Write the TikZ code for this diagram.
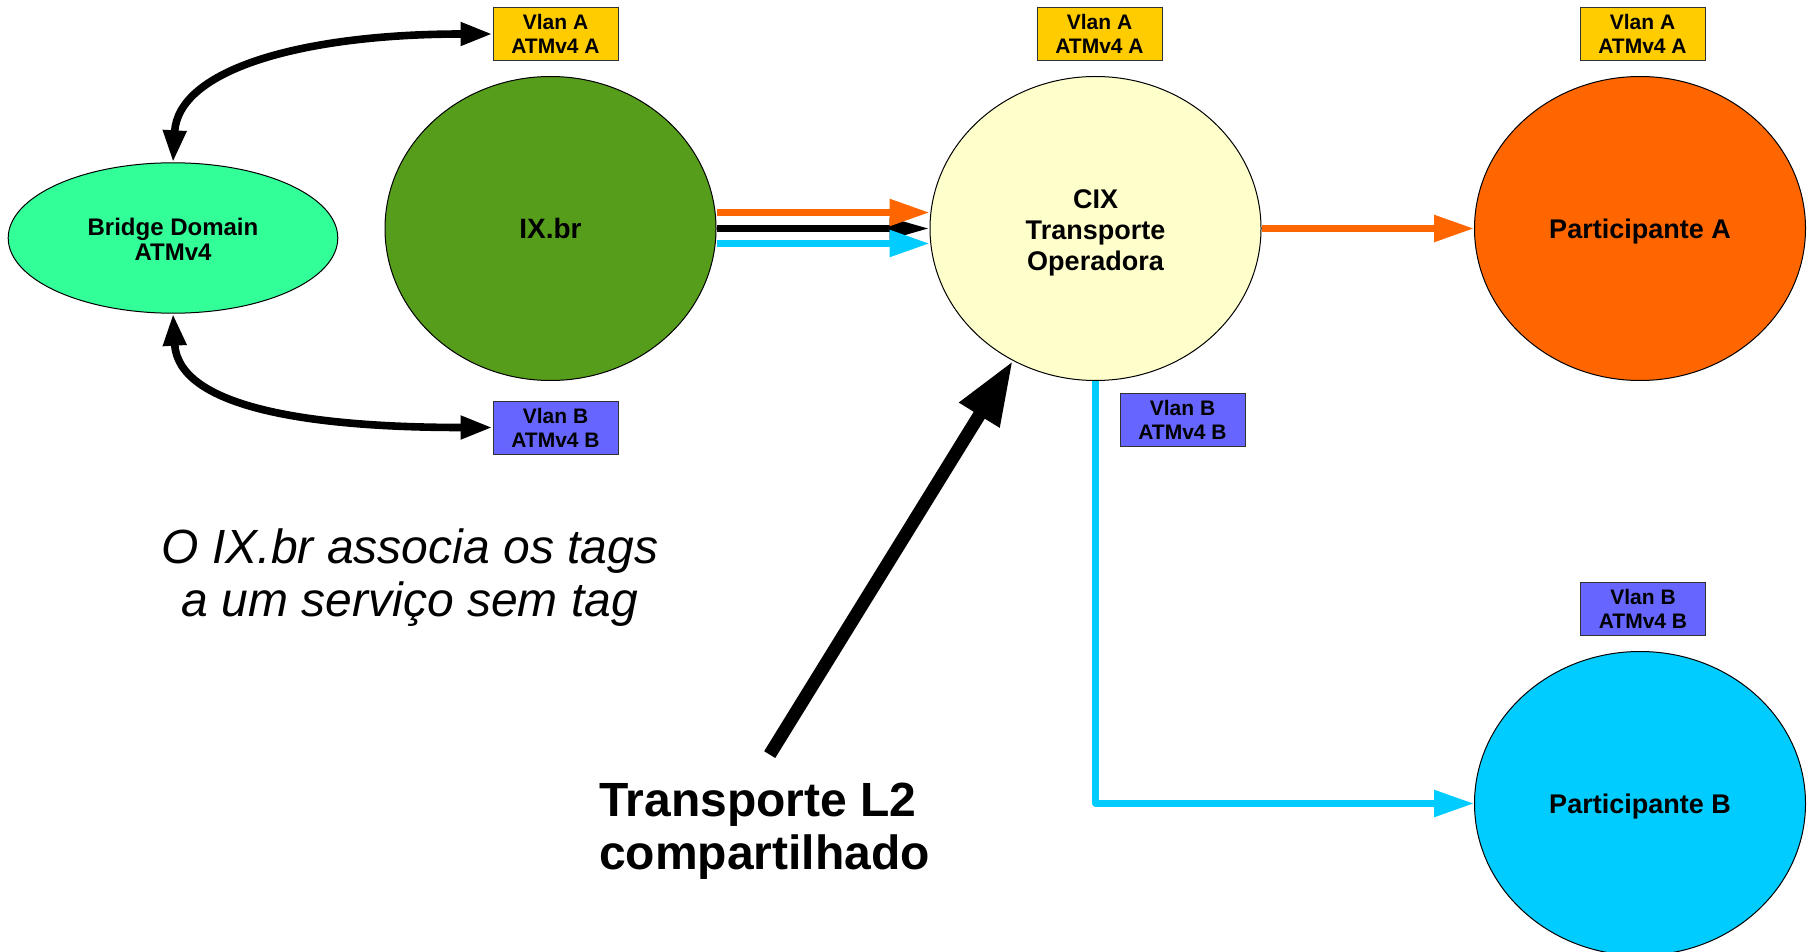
\documentclass[tikz,border=0pt]{standalone}
\usepackage{fontspec}
\setmainfont{Liberation Sans}
\usetikzlibrary{arrows.meta,shapes.geometric}
\definecolor{bdgreen}{HTML}{33FF99}
\definecolor{ixgreen}{HTML}{579D1C}
\definecolor{cixyellow}{HTML}{FFFFCC}
\definecolor{orangeA}{HTML}{FF6600}
\definecolor{cyanB}{HTML}{00CCFF}
\definecolor{vlanA}{HTML}{FFCC00}
\definecolor{vlanB}{HTML}{6666FF}
\begin{document}
\begin{tikzpicture}[x=0.5pt,y=-0.5pt,
  oval/.style={ellipse, draw=black, line width=0.5pt, inner sep=0pt,
    minimum width=165.5pt, minimum height=152pt,
    font=\fontsize{13.5}{15.5}\selectfont\bfseries, align=center},
  tagbox/.style={rectangle, draw=black!80, line width=0.5pt, inner sep=0pt,
    minimum width=62.5pt, minimum height=26.5pt,
    font=\fontsize{10.5}{12}\selectfont\bfseries, align=center},
  flow/.style={line width=3.4pt, -{Triangle[length=20pt,width=12.8pt]}},
  blackflow/.style={line width=3.2pt, -{Triangle[length=20pt,width=10pt]}},
  curvearrow/.style={line width=3.8pt,
    {Triangle[length=16pt,width=11pt]}-{Triangle[length=16pt,width=11pt]}},
  bigarrow/.style={line width=6.5pt, -{Triangle[length=32pt,width=22pt]}},
]
\useasboundingbox (0,0) rectangle (1814,952);

% ellipses
\node[oval, fill=bdgreen, minimum width=164.8pt, minimum height=75.2pt,
  font=\fontsize{12}{12.7}\selectfont\bfseries] (bd) at (173,238)
  {\raisebox{-2.5pt}[\height][\depth]{\begin{tabular}{@{}c@{}}Bridge Domain\\ATMv4\end{tabular}}};
\node[oval, fill=ixgreen, font=\fontsize{14}{16}\selectfont\bfseries] (ix) at (550.5,228.5) {IX.br};
\node[oval, fill=cixyellow] (cix) at (1095.5,228.5)
  {\raisebox{-2.3pt}[\height][\depth]{\begin{tabular}{@{}c@{}}CIX\\Transporte\\Operadora\end{tabular}}};
\node[oval, fill=orangeA] (pa) at (1640,228.5) {\raisebox{-1.5pt}[\height][\depth]{Participante A}};
\node[oval, fill=cyanB] (pb) at (1640,803.5) {\raisebox{-1.5pt}[\height][\depth]{Participante B}};

% tag boxes
\node[tagbox, fill=vlanA] (ta1) at (555.5,34) {Vlan A\\ATMv4 A};
\node[tagbox, fill=vlanA] (ta2) at (1099.5,34) {Vlan A\\ATMv4 A};
\node[tagbox, fill=vlanA] (ta3) at (1642.5,34) {Vlan A\\ATMv4 A};
\node[tagbox, fill=vlanB] (tb1) at (555.5,427.5) {Vlan B\\ATMv4 B};
\node[tagbox, fill=vlanB] (tb2) at (1182.5,420) {Vlan B\\ATMv4 B};
\node[tagbox, fill=vlanB] (tb3) at (1643,609) {Vlan B\\ATMv4 B};

% curved double arrows
\draw[curvearrow] (bd.north) .. controls +(5,-93) and +(-190,0) .. (ta1.west);
\draw[curvearrow] (bd.south) .. controls +(5,92) and +(-190,0) .. (tb1.west);

% IX.br -> CIX
\draw[blackflow, black] (ix.east) -- (cix.west);
\draw[flow, orangeA] ([yshift=8pt]ix.east) -- ([yshift=8pt]cix.west);
\draw[flow, cyanB] ([yshift=-7.5pt]ix.east) -- ([yshift=-7.5pt]cix.west);

% CIX -> participants
\draw[flow, orangeA] (cix.east) -- (pa.west);
\draw[flow, cyanB, line join=round] (cix.south) |- (pb.west);

% texts
\node[font=\fontsize{24}{26.5}\selectfont\itshape, align=center] (note) at (410,578)
  {O IX.br associa os tags\\a um serviço sem tag};
\node[font=\fontsize{24}{26.5}\selectfont\bfseries, align=left, anchor=west] (l2) at (592,831)
  {Transporte L2\\compartilhado};

% big arrow
\coordinate (l2tail) at (769.7,754.6);
\draw[bigarrow] (l2tail) -- (cix.238);
\end{tikzpicture}
\end{document}
